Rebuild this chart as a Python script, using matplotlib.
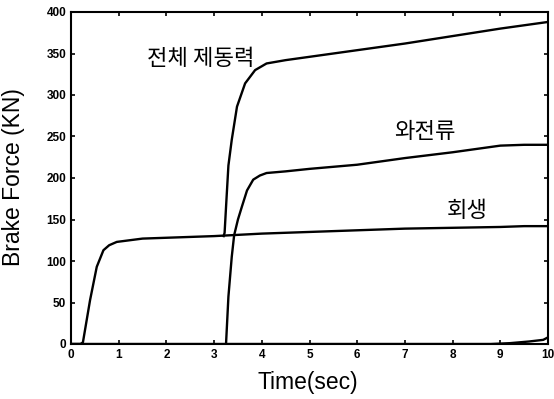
import matplotlib.pyplot as plt

# 시간축 (sec) 과 제동력 (KN)
regen_t = [0, 0.2, 0.25, 0.4, 0.54, 0.68, 0.8, 0.96, 1.5, 2, 3, 4, 5, 6, 7, 8, 9, 9.5, 10]
regen_v = [0, 0, 2, 53, 93, 113, 119, 123, 127, 128, 130, 133, 135, 137, 139, 140, 141, 142, 142]

eddy_t = [3.25, 3.3, 3.37, 3.42, 3.5, 3.58, 3.69, 3.82, 3.96, 4.1, 4.5, 5, 6, 7, 8, 9, 9.5, 10]
eddy_v = [0, 57, 105, 131, 150, 165, 185, 198, 203, 206, 208, 211, 216, 224, 231, 239, 240, 240]

total_t = [3.2, 3.22, 3.26, 3.3, 3.37, 3.48, 3.65, 3.86, 4.1, 4.5, 5, 6, 7, 8, 9, 10]
total_v = [130, 134, 175, 215, 246, 286, 314, 330, 338, 342, 346, 354, 362, 371, 380, 388]

small_t = [0, 8.8, 9.2, 9.6, 9.9, 10]
small_v = [0, 0, 1, 3, 5, 8]

labels = ['전체 제동력', '와전류', '회생']
label_pos = [(2.73, 344), (7.42, 256), (8.3, 161)]


def main():
    fig = plt.figure(figsize=(5.54, 3.99), dpi=100)
    ax = fig.add_axes([71 / 554, 1 - 344 / 399, 477 / 554, 332 / 399])

    for t, v in [(regen_t, regen_v), (eddy_t, eddy_v), (total_t, total_v), (small_t, small_v)]:
        ax.plot(t, v, color='black', lw=1.7)

    ax.set_xlim(0, 10)
    ax.set_ylim(0, 400)
    ax.set_xticks(range(0, 11))
    ax.set_yticks(range(0, 401, 50))
    ax.tick_params(direction='in', top=True, right=True, length=3, width=1.2)
    for lab in ax.get_xticklabels() + ax.get_yticklabels():
        lab.set_fontfamily('Liberation Sans')
        lab.set_fontweight('bold')
        lab.set_fontsize(8.5)
    for s in ax.spines.values():
        s.set_linewidth(1.5)

    # 축 제목
    fig.text(308 / 554, 1 - 383 / 399, 'Time(sec)', ha='center', va='center',
             fontsize=16.5, family='Liberation Sans')
    fig.text(14 / 554, 1 - 177 / 399, 'Brake Force (KN)', ha='center', va='center',
             rotation=90, fontsize=16.5, family='Liberation Sans')

    for txt, (x, y) in zip(labels, label_pos):
        ax.text(x, y, txt, ha='center', va='center', fontsize=16,
                family=['Noto Sans CJK KR', 'DejaVu Sans'], fontweight='medium')

    fig.savefig('out.png', dpi=100)


if __name__ == "__main__":
    main()
